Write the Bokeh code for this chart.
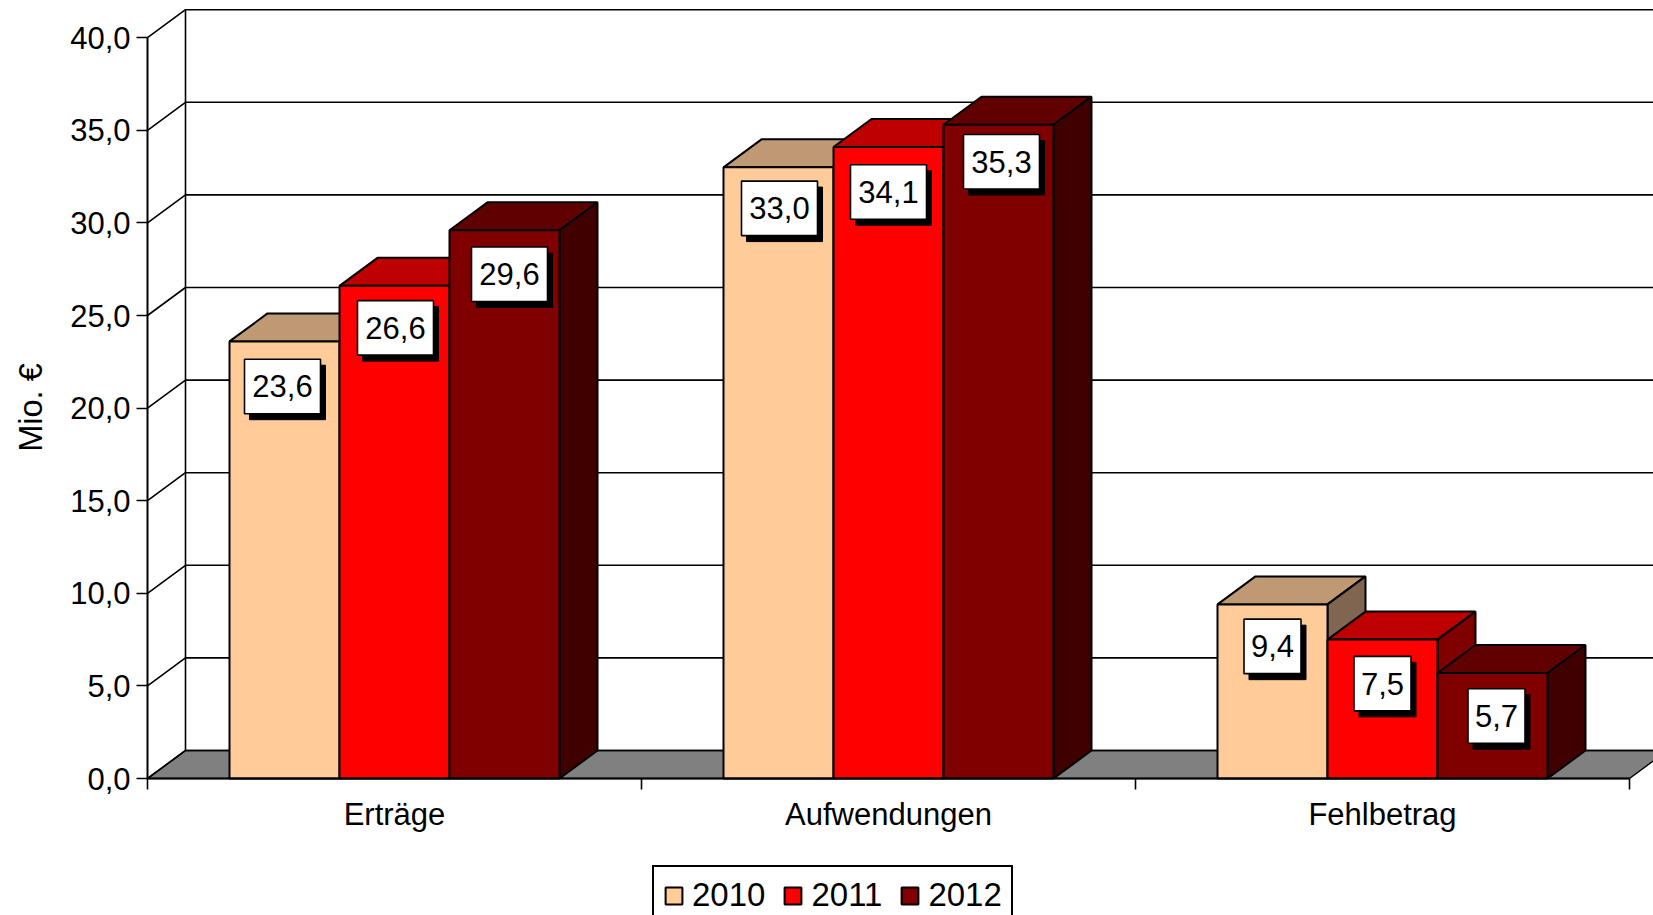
import math
from bokeh.plotting import figure
from bokeh.models import Range1d, FixedTicker, Legend, LegendItem, Label
from bokeh.core.properties import value
from bokeh.embed import file_html
from bokeh.resources import INLINE

categories = ["Erträge", "Aufwendungen", "Fehlbetrag"]
years = ["2010", "2011", "2012"]
values_2010 = [23.6, 33.0, 9.4]
values_2011 = [26.6, 34.1, 7.5]
values_2012 = [29.6, 35.3, 5.7]
y_ticks = [0, 5, 10, 15, 20, 25, 30, 35, 40]
y_labels = ["0,0", "5,0", "10,0", "15,0", "20,0", "25,0", "30,0", "35,0", "40,0"]
y_title = "Mio. €"

front_colors = ["#FFCC99", "#FF0000", "#800000"]
top_colors = ["#BF9973", "#BF0000", "#600000"]
side_colors = ["#806650", "#800000", "#400000"]
series = [values_2010, values_2011, values_2012]

# label box displacement from the default spot, in pixels (series, category)
label_dx = [[-2, 1, 0], [1, 0, 0], [5, 3, 4]]
label_dy = [[45, 41, 42], [42, 45, 44], [44, 37, 43]]

FONT = "Liberation Sans"
FS = "31px"
W, H = 1653, 915
ORIGIN_X, ORIGIN_Y = 147, 778        # pixel position of the axes' origin
PX_PER_CAT, PX_PER_UNIT = 494.0, 18.52
BAR = 110 / PX_PER_CAT
GAP = 82 / PX_PER_CAT
DX = 38 / PX_PER_CAT
DY = 28 / PX_PER_UNIT

p = figure(width=W, height=H, output_backend="svg", toolbar_location=None,
           x_range=Range1d(-ORIGIN_X / PX_PER_CAT, (W - ORIGIN_X) / PX_PER_CAT),
           y_range=Range1d(-(H - ORIGIN_Y) / PX_PER_UNIT, ORIGIN_Y / PX_PER_UNIT),
           min_border=0)
p.outline_line_color = None
p.grid.visible = False

n_cat = len(categories)
# Floor
p.patch([0, DX, n_cat + DX, n_cat], [0, DY, DY, 0], fill_color="#808080",
        line_color="black", line_width=1.5)
# Walls: side slants, back wall lines
xs, ys = [], []
for t in y_ticks:
    xs.append([0, DX, n_cat + 2 * DX])
    ys.append([t, t + DY, t + DY])
xs.append([DX, DX])
ys.append([DY, y_ticks[-1] + DY])
p.multi_line(xs, ys, line_color="black", line_width=1.6)

# Bars
fronts = []
for s, vals in enumerate(series):
    lefts = [c + GAP + s * BAR for c in range(n_cat)]
    rights = [l + BAR for l in lefts]
    p.patches([[l, r, r + DX, l + DX] for l, r in zip(lefts, rights)],
              [[h, h, h + DY, h + DY] for h in vals],
              fill_color=top_colors[s], line_color="black", line_width=2)
    p.patches([[r, r + DX, r + DX, r] for r in rights],
              [[0, DY, h + DY, h] for h in vals],
              fill_color=side_colors[s], line_color="black", line_width=2)
    fronts.append(p.vbar(x=[l + BAR / 2 for l in lefts], top=vals, bottom=0, width=BAR,
                         fill_color=front_colors[s], line_color="black", line_width=2))

# Value labels
for s, vals in enumerate(series):
    for c, v in enumerate(vals):
        txt = f"{v:.1f}".replace(".", ",")
        cx = c + GAP + (s + 0.5) * BAR + label_dx[s][c] / PX_PER_CAT
        cy = v - label_dy[s][c] / PX_PER_UNIT
        bw = (len(txt) * 19) / PX_PER_CAT
        bh = 54.5 / PX_PER_UNIT
        p.rect([cx + 5 / PX_PER_CAT], [cy - 6 / PX_PER_UNIT], width=bw, height=bh,
               fill_color="black", line_color="black", line_width=1)
        p.rect([cx], [cy], width=bw, height=bh, fill_color="white",
               line_color="black", line_width=1.6)
        p.text([cx], [cy], text=[txt], text_align="center", text_baseline="middle",
               text_font=value(FONT), text_font_size=FS, text_color="black")

# Axes
ya = p.yaxis[0]
ya.fixed_location = 0
ya.ticker = FixedTicker(ticks=y_ticks)
ya.major_label_overrides = {t: l for t, l in zip(y_ticks, y_labels)}
ya.bounds = (y_ticks[0], y_ticks[-1])
ya.major_tick_out = 11
ya.major_tick_in = 0
ya.minor_tick_line_color = None
ya.major_tick_line_color = "black"
ya.major_tick_line_width = 1.6
ya.axis_line_color = "black"
ya.axis_line_width = 2
ya.major_label_text_font = FONT
ya.major_label_text_font_size = FS
ya.major_label_text_color = "black"
ya.major_label_standoff = 6

p.add_layout(Label(x=30, y=H - 407, x_units="screen", y_units="screen",
                   text=y_title, angle=math.pi / 2, text_align="center", text_baseline="middle",
                   text_font=FONT, text_font_size="32.5px", text_color="black"))

xa = p.xaxis[0]
xa.fixed_location = 0
centers = [c + 0.5 for c in range(n_cat)]
xa.ticker = FixedTicker(ticks=centers, minor_ticks=list(range(n_cat + 1)))
xa.major_label_overrides = {c: l for c, l in zip(centers, categories)}
xa.bounds = (0, n_cat)
xa.major_tick_line_color = None
xa.major_tick_out = 0
xa.major_tick_in = 0
xa.minor_tick_out = 11
xa.minor_tick_in = 0
xa.minor_tick_line_color = "black"
xa.minor_tick_line_width = 1.6
xa.axis_line_color = "black"
xa.axis_line_width = 2
xa.major_label_text_font = FONT
xa.major_label_text_font_size = FS
xa.major_label_text_color = "black"
xa.major_label_standoff = 7

legend = Legend(items=[LegendItem(label=y, renderers=[r]) for y, r in zip(years, fronts)],
                orientation="horizontal", location=(652, -10), margin=0, padding=9,
                spacing=17, label_standoff=8, glyph_width=21, glyph_height=21,
                label_text_font=FONT, label_text_font_size="33px", label_text_color="black",
                label_text_baseline="middle",
                border_line_color="black", border_line_width=2, border_line_alpha=1.0,
                background_fill_color="white", background_fill_alpha=1.0)
p.add_layout(legend, "center")

open("out.html", "w").write(file_html(p, INLINE))
